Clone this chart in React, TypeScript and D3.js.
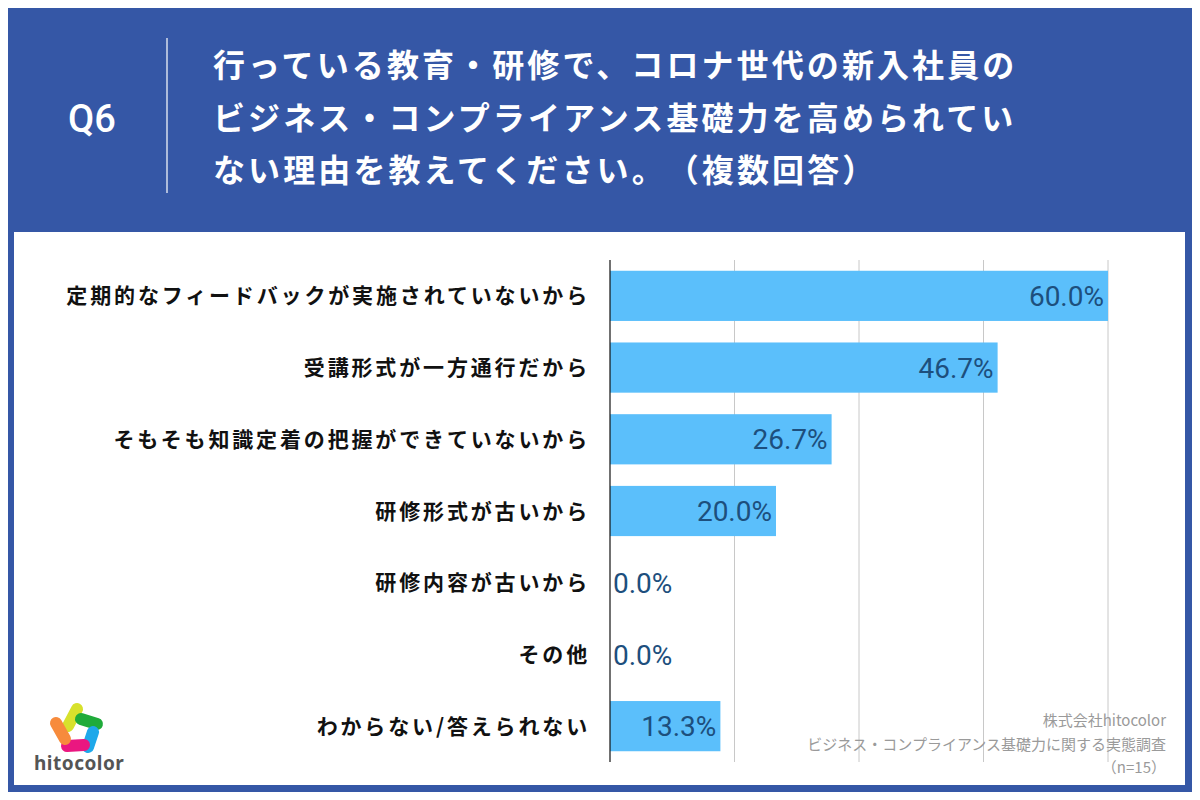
import { useEffect, useRef } from 'react';
import * as d3 from 'd3';

const categories = [
    '定期的なフィードバックが実施されていないから',
    '受講形式が一方通行だから',
    'そもそも知識定着の把握ができていないから',
    '研修形式が古いから',
    '研修内容が古いから',
    'その他',
    'わからない/答えられない',
];
const values = [60.0, 46.7, 26.7, 20.0, 0.0, 0.0, 13.3];
const xTicks = [0, 15, 30, 45, 60];

const titleLines = [
    '行っている教育・研修で、コロナ世代の新入社員の',
    'ビジネス・コンプライアンス基礎力を高められてい',
    'ない理由を教えてください。（複数回答）',
];
const footerLines = ['株式会社hitocolor', 'ビジネス・コンプライアンス基礎力に関する実態調査', '（n=15）'];

const JP = '"Noto Sans CJK JP", "Noto Sans", sans-serif';

export default function App() {
    const ref = useRef<HTMLDivElement>(null);

    useEffect(() => {
        if (!ref.current) return;
        d3.select(ref.current).selectAll('*').remove();

        const W = 1200, H = 800;
        const svg = d3.select(ref.current)
            .append('svg')
            .attr('width', W)
            .attr('height', H)
            .attr('viewBox', `0 0 ${W} ${H}`)
            .style('display', 'block');

        // background + white panel
        svg.append('rect').attr('width', W).attr('height', H).attr('fill', '#3557a6');
        svg.append('rect')
            .attr('x', 14).attr('y', 232).attr('width', 1171).attr('height', 553)
            .attr('fill', '#ffffff');

        // header
        svg.append('text')
            .attr('x', 92).attr('y', 132)
            .attr('text-anchor', 'middle')
            .attr('fill', '#fff')
            .style('font-family', 'Roboto, "Liberation Sans", sans-serif')
            .style('font-weight', 500)
            .style('font-size', '38px')
            .text('Q6');
        svg.append('line')
            .attr('x1', 167).attr('x2', 167).attr('y1', 38).attr('y2', 193)
            .attr('stroke', '#fff').attr('stroke-width', 1.2);
        svg.append('g').selectAll('text')
            .data(titleLines)
            .join('text')
            .attr('x', 213)
            .attr('y', (_, i) => 77 + i * 52.5)
            .attr('fill', '#fff')
            .style('font-family', JP)
            .style('font-weight', 700)
            .style('font-size', '32px')
            .style('letter-spacing', '3.1px')
            .style('text-spacing-trim', 'space-all')
            .text(d => d);

        // chart
        const x = d3.scaleLinear().domain([0, 60]).range([610, 1108]);
        const y = d3.scaleBand<string>()
            .domain(categories)
            .range([260, 762])
            .paddingInner(0.3)
            .paddingOuter(0.15);

        const g = svg.append('g');

        g.selectAll('line.grid')
            .data(xTicks.slice(1))
            .join('line')
            .attr('class', 'grid')
            .attr('x1', d => x(d)).attr('x2', d => x(d))
            .attr('y1', 260).attr('y2', 762)
            .attr('stroke', '#c8c8c8').attr('stroke-width', 1);

        g.selectAll('rect.bar')
            .data(values)
            .join('rect')
            .attr('class', 'bar')
            .attr('x', x(0))
            .attr('y', (_, i) => y(categories[i])!)
            .attr('width', d => x(d) - x(0))
            .attr('height', y.bandwidth())
            .attr('fill', '#5bbffb');

        g.append('line')
            .attr('x1', x(0)).attr('x2', x(0))
            .attr('y1', 260).attr('y2', 762)
            .attr('stroke', '#111').attr('stroke-width', 1.2);

        // category labels
        g.selectAll('text.cat')
            .data(categories)
            .join('text')
            .attr('class', 'cat')
            .attr('x', 590)
            .attr('y', d => y(d)! + y.bandwidth() / 2)
            .attr('dy', '0.36em')
            .attr('text-anchor', 'end')
            .attr('fill', '#111')
            .style('font-family', JP)
            .style('font-weight', 700)
            .style('font-size', '21px')
            .style('letter-spacing', '2.85px')
            .text(d => d);

        // value labels
        g.selectAll('text.val')
            .data(values)
            .join('text')
            .attr('class', 'val')
            .attr('x', d => d > 0 ? x(d) - 4 : x(0) + 3)
            .attr('y', (_, i) => y(categories[i])! + y.bandwidth() / 2)
            .attr('dy', '0.36em')
            .attr('text-anchor', d => d > 0 ? 'end' : 'start')
            .attr('fill', '#1d4f7d')
            .style('font-family', 'Roboto, "Liberation Sans", sans-serif')
            .style('font-weight', 400)
            .style('font-size', '28px')
            .text(d => `${d.toFixed(1)}%`);

        // footer
        svg.append('g').selectAll('text')
            .data(footerLines)
            .join('text')
            .attr('x', 1166)
            .attr('y', (_, i) => 726 + i * 23.5)
            .attr('text-anchor', 'end')
            .attr('fill', '#9a9a9a')
            .style('font-family', JP)
            .style('font-size', '15px')
            .text(d => d);

        // logo
        const logo = svg.append('g').attr('stroke-linecap', 'round').attr('stroke-width', 12).attr('fill', 'none');
        const strokes: [number, number, number, number, string][] = [
            [77, 709, 68, 726, '#d7e12c'],
            [81, 719, 97, 724, '#1fab3a'],
            [93, 732, 88, 747, '#1ea8ea'],
            [84, 745, 67, 746, '#ea1780'],
            [56, 723, 65, 739, '#f78b3c'],
        ];
        strokes.forEach(([x1, y1, x2, y2, c]) => {
            logo.append('line')
                .attr('x1', x1).attr('y1', y1).attr('x2', x2).attr('y2', y2)
                .attr('stroke', c);
        });
        svg.append('text')
            .attr('x', 34).attr('y', 770)
            .attr('fill', '#555')
            .style('font-family', '"Noto Sans", sans-serif')
            .style('font-weight', 700)
            .style('font-size', '19px')
            .style('letter-spacing', '0.5px')
            .text('hitocolor');
    }, []);

    return <div ref={ref} style={{ width: 1200, height: 800, margin: -8 }} />;
}
